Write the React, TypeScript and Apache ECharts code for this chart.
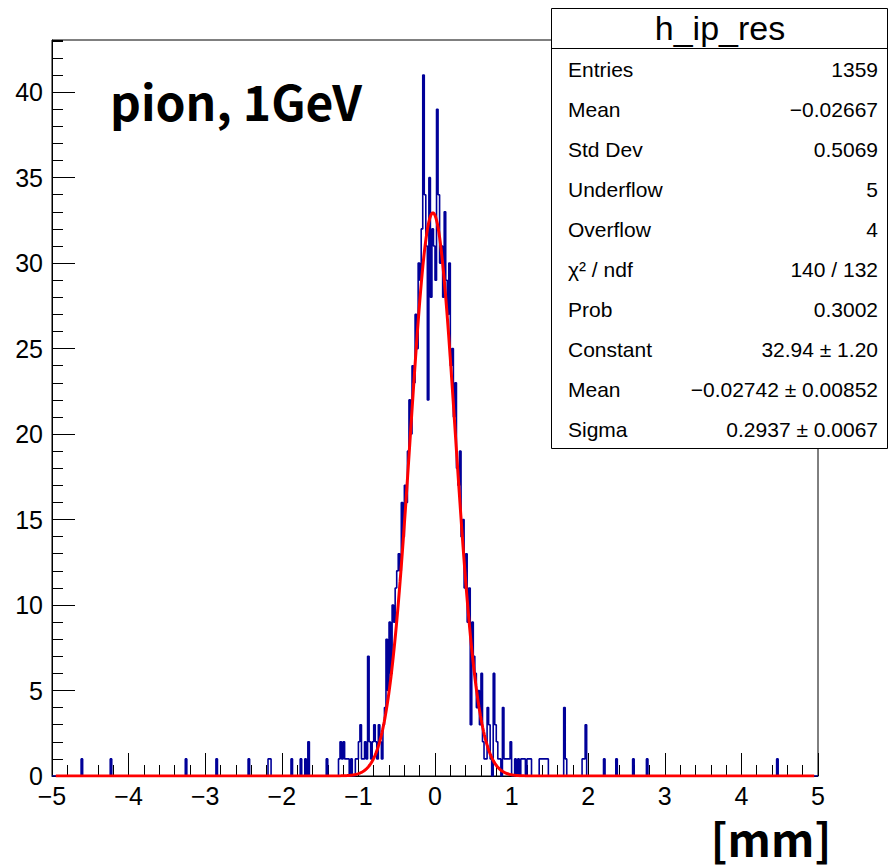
import React, { useEffect, useRef } from "react";
import * as echarts from "echarts";

// Histogram h_ip_res: 500 bins from -5 to 5 mm
const X_MIN = -5;
const X_MAX = 5;
const N_BINS = 500;
const Y_MAX = 43.05;

// contiguous block of bins starting at coreStart
const coreStart = 186;
const coreCounts = [
  0, 1, 2, 1, 2, 1, 1, 1, 0, 1, 0, 0, 1, 1, 2, 3, 1, 1, 2, 1,
  7, 2, 1, 2, 3, 2, 1, 3, 2, 1, 3, 4, 8, 5, 9, 6, 10, 9, 11, 12,
  13, 12, 16, 14, 17, 16, 19, 22, 20, 24, 23, 27, 25, 30, 29, 32,
  41, 34, 31, 22, 35, 28, 32, 31, 29, 39, 34, 30, 31, 28, 33,
  29, 27, 30, 24, 25, 21, 23, 18, 17, 19, 14, 15, 11, 13, 9, 11, 3, 9, 7, 6, 4, 5, 3, 6,
  2, 1, 1, 4, 3, 1, 0, 6, 3, 2, 1, 1, 0, 4, 1, 1, 1, 1, 2, 0, 0, 1, 0, 1, 0, 1, 1, 1, 0, 1, 1, 1, 0,
];
// isolated tail bins
const tailBins = [19, 38, 87, 107, 128, 141, 142, 156, 162, 165, 167, 179, 318, 319, 320, 321, 322, 323, 334, 335, 346, 347, 348, 360, 368, 379, 388, 473];
const tailCounts = [1, 1, 1, 1, 1, 1, 1, 1, 1, 1, 2, 1, 1, 1, 1, 1, 1, 1, 4, 1, 1, 1, 3, 1, 1, 1, 1, 1];

// Gaussian fit parameters (from the stats box)
const fitConstant = 32.94;
const fitMean = -0.02742;
const fitSigma = 0.2937;

const statsTitle = "h_ip_res";
const statsLabels = ["Entries", "Mean", "Std Dev", "Underflow", "Overflow", "\u03c7\u00b2 / ndf", "Prob", "Constant", "Mean", "Sigma"];
const statsValues = ["1359", "\u22120.02667", "0.5069", "5", "4", "140 / 132", "0.3002", "32.94 \u00b1 1.20", "\u22120.02742 \u00b1 0.00852", "0.2937 \u00b1 0.0067"];

const ROOT_FONT = "'Liberation Sans', Arial, Helvetica, sans-serif";

export default function App() {
  const ref = useRef<HTMLDivElement>(null);
  useEffect(() => {
    if (!ref.current) return;
    const chart = echarts.init(ref.current, undefined, { renderer: "svg" });

    const counts: number[] = new Array(N_BINS).fill(0);
    coreCounts.forEach((c, k) => (counts[coreStart + k] = c));
    tailBins.forEach((b, k) => (counts[b] = tailCounts[k]));
    const bw = (X_MAX - X_MIN) / N_BINS;
    const histData: number[][] = counts.map((c, i) => [X_MIN + i * bw, c]);
    histData.push([X_MAX, counts[N_BINS - 1]]);

    const fitData: number[][] = [];
    const f0 = -4.95, f1 = 4.95, nf = 1000;
    for (let k = 0; k <= nf; k++) {
      const x = f0 + ((f1 - f0) * k) / nf;
      const z = (x - fitMean) / fitSigma;
      fitData.push([x, fitConstant * Math.exp(-0.5 * z * z)]);
    }

    const fmt = (v: number) => (v < 0 ? "\u2212" + Math.abs(v) : String(v));

    const graphics: any[] = [
      {
        type: "text",
        x: 110,
        y: 100,
        z: 10,
        style: {
          text: "pion, 1GeV",
          font: "bold 48px 'Noto Sans CJK JP', 'Noto Sans', sans-serif",
          lineHeight: 48,
          fill: "#000",
          align: "left",
          verticalAlign: "middle",
          textAlign: "left",
          textVerticalAlign: "middle",
        },
      },
      {
        type: "text",
        x: 771,
        y: 837,
        z: 10,
        style: {
          text: "[mm]",
          font: "bold 45px 'Noto Sans CJK JP', 'Noto Sans', sans-serif",
          lineHeight: 40,
          fill: "#000",
          align: "center",
          verticalAlign: "middle",
          textAlign: "center",
          textVerticalAlign: "middle",
        },
      },
      {
        type: "rect",
        z: 20,
        shape: { x: 551.5, y: 8.5, width: 336, height: 440 },
        style: { fill: "#fff", stroke: "#000", lineWidth: 1 },
      },
      {
        type: "line",
        z: 21,
        shape: { x1: 551.5, y1: 48.5, x2: 887.5, y2: 48.5 },
        style: { stroke: "#000", lineWidth: 1 },
      },
      {
        type: "text",
        x: 720,
        y: 28,
        z: 22,
        style: {
          text: statsTitle,
          font: `34px ${ROOT_FONT}`,
          fill: "#000",
          align: "center",
          verticalAlign: "middle",
          textAlign: "center",
          textVerticalAlign: "middle",
        },
      },
    ];
    statsLabels.forEach((lab, k) => {
      const y = 69 + k * 40;
      graphics.push({
        type: "text",
        x: 568,
        y,
        z: 22,
        style: {
          text: lab,
          font: `21px ${ROOT_FONT}`,
          fill: "#000",
          align: "left",
          verticalAlign: "middle",
          textAlign: "left",
          textVerticalAlign: "middle",
        },
      });
      graphics.push({
        type: "text",
        x: 878,
        y,
        z: 22,
        style: {
          text: statsValues[k],
          font: `21px ${ROOT_FONT}`,
          fill: "#000",
          align: "right",
          verticalAlign: "middle",
          textAlign: "right",
          textVerticalAlign: "middle",
        },
      });
    });

    chart.setOption({
      animation: false,
      backgroundColor: "#fff",
      grid: {
        left: 52,
        top: 40,
        width: 766,
        height: 736,
        show: true,
        borderColor: "#000",
        borderWidth: 1,
        backgroundColor: "transparent",
      },
      xAxis: [
        {
          type: "value",
          min: X_MIN,
          max: X_MAX,
          interval: 1,
          position: "bottom",
          axisLine: { show: true, onZero: false, lineStyle: { color: "#000", width: 1 } },
          axisTick: { show: true, inside: true, length: 23, lineStyle: { color: "#000", width: 1 } },
          axisLabel: {
            show: true,
            formatter: fmt,
            color: "#000",
            fontSize: 25,
            lineHeight: 26,
            fontFamily: ROOT_FONT,
            margin: 7,
          },
          splitLine: { show: false },
        },
        {
          type: "value",
          min: X_MIN,
          max: X_MAX,
          interval: 0.2,
          position: "bottom",
          axisLine: { show: false, onZero: false },
          axisTick: { show: true, inside: true, length: 11, lineStyle: { color: "#000", width: 1 } },
          axisLabel: { show: false },
          splitLine: { show: false },
        },
      ],
      yAxis: [
        {
          type: "value",
          min: 0,
          max: Y_MAX,
          interval: 5,
          position: "left",
          axisLine: { show: true, onZero: false, lineStyle: { color: "#000", width: 1 } },
          axisTick: { show: true, inside: true, length: 23, lineStyle: { color: "#000", width: 1 } },
          axisLabel: {
            show: true,
            showMaxLabel: false,
            formatter: (v: number) => (Math.abs(v % 5) < 1e-6 ? String(v) : ""),
            color: "#000",
            fontSize: 25,
            lineHeight: 26,
            fontFamily: ROOT_FONT,
            margin: 9,
          },
          splitLine: { show: false },
        },
        {
          type: "value",
          min: 0,
          max: Y_MAX,
          interval: 1,
          position: "left",
          axisLine: { show: false, onZero: false },
          axisTick: { show: true, inside: true, length: 11, lineStyle: { color: "#000", width: 1 } },
          axisLabel: { show: false },
          splitLine: { show: false },
        },
      ],
      series: [
        {
          type: "line",
          name: "h_ip_res",
          xAxisIndex: 0,
          yAxisIndex: 0,
          data: histData,
          step: "end",
          showSymbol: false,
          symbol: "none",
          lineStyle: { color: "#000099", width: 1.6 },
          z: 2,
          silent: true,
        },
        {
          type: "line",
          name: "gaus",
          xAxisIndex: 0,
          yAxisIndex: 0,
          data: fitData,
          showSymbol: false,
          symbol: "none",
          lineStyle: { color: "#ff0000", width: 3 },
          z: 3,
          silent: true,
        },
      ],
      graphic: { elements: graphics },
    });

    return () => chart.dispose();
  }, []);

  return (
    <div
      ref={ref}
      style={{ position: "absolute", left: 0, top: 0, width: 889, height: 866, background: "#fff" }}
    />
  );
}
